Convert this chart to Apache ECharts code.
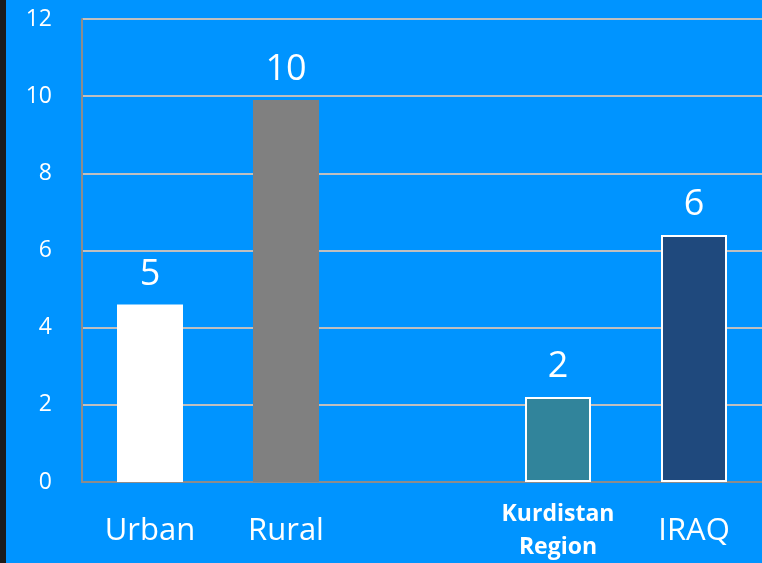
<!DOCTYPE html>
<html>
<head>
<meta charset="utf-8">
<script src="https://cdn.jsdelivr.net/npm/echarts@6/dist/echarts.min.js"></script>
<style>
    html, body { margin: 0; padding: 0; background: #0094FF; }
    #main { width: 762px; height: 563px; }
</style>
</head>
<body>
<div id="main"></div>
<script>
var categories = ['Urban', 'Rural', '', 'Kurdistan Region', 'IRAQ'];
var values = [4.6, 9.9, null, 2.2, 6.4];
var labels = ['5', '10', '', '2', '6'];
var barColors = ['#FFFFFF', '#808080', 'none', '#31849B', '#1F497D'];
var barBorders = [0, 0, 0, 2, 2];

function setChart(dom_id) {
    var myChart = echarts.init(document.getElementById(dom_id));

    var data = [];
    for (var i = 0; i < values.length; i++) {
        data.push({
            value: values[i],
            itemStyle: {
                color: barColors[i],
                borderColor: '#FFFFFF',
                borderWidth: barBorders[i]
            }
        });
    }

    var option = {
        backgroundColor: '#0094FF',
        animation: false,
        graphic: [{
            type: 'rect',
            shape: { x: 0, y: 0, width: 6, height: 563 },
            style: { fill: '#1b1b1b' }
        }],
        grid: {
            left: 82,
            right: 0,
            top: 19,
            bottom: 81,
            outerBoundsMode: 'none'
        },
        xAxis: {
            type: 'category',
            data: categories,
            axisLine: { lineStyle: { color: '#8c8c8c', width: 2 } },
            axisTick: { show: false },
            axisLabel: {
                color: '#FFFFFF',
                margin: 49,
                verticalAlign: 'middle',
                interval: 0,
                fontFamily: 'Open Sans',
                fontSize: 31,
                formatter: function (v) {
                    if (v == 'Kurdistan Region') {
                        return '{b|Kurdistan}\n{b|Region}';
                    }
                    return v;
                },
                rich: {
                    b: {
                        fontSize: 23,
                        fontWeight: 'bold',
                        fontFamily: 'Open Sans',
                        color: '#FFFFFF',
                        lineHeight: 33
                    }
                }
            }
        },
        yAxis: {
            type: 'value',
            min: 0,
            max: 12,
            interval: 2,
            axisLine: { show: true, lineStyle: { color: '#8c8c8c', width: 2 } },
            axisTick: { show: false },
            axisLabel: {
                color: '#FFFFFF',
                fontSize: 23,
                fontFamily: 'Open Sans',
                margin: 30
            },
            splitLine: { lineStyle: { color: '#BFBFBF', width: 2 } }
        },
        series: [{
            type: 'bar',
            barWidth: 66,
            data: data,
            label: {
                show: true,
                position: 'top',
                distance: 12,
                color: '#FFFFFF',
                fontSize: 36,
                fontFamily: 'Open Sans',
                formatter: function (p) {
                    return labels[p.dataIndex];
                }
            }
        }]
    };

    myChart.setOption(option);
    return myChart;
}

setChart('main');
</script>
</body>
</html>
